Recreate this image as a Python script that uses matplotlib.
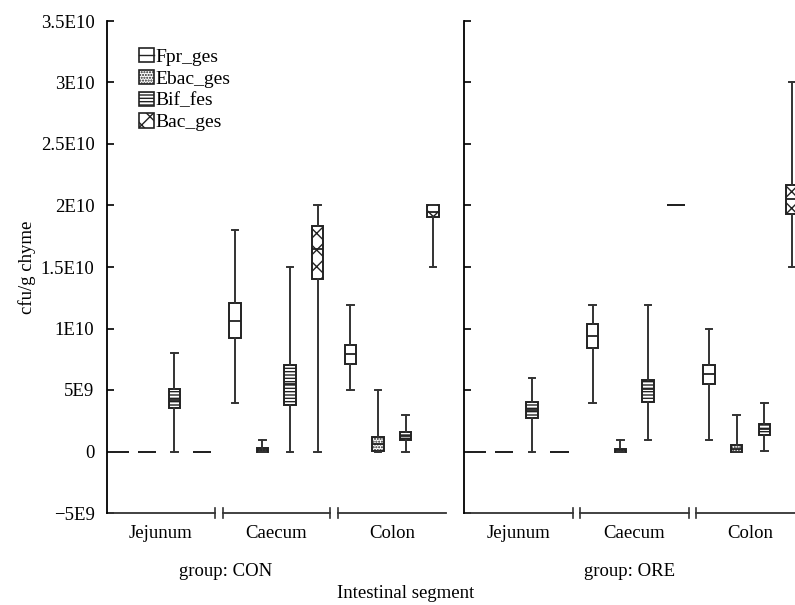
import matplotlib
matplotlib.use("Agg")
import matplotlib.pyplot as plt
from matplotlib.patches import Patch
from matplotlib.lines import Line2D
from matplotlib.legend_handler import HandlerTuple
import matplotlib.transforms as mtransforms

plt.rcParams['font.family'] = ['Liberation Serif', 'DejaVu Serif']
plt.rcParams['hatch.linewidth'] = 1.0

segments = ['Jejunum', 'Caecum', 'Colon']
series = ['Fpr_ges', 'Ebac_ges', 'Bif_fes', 'Bac_ges']
groups = ['group: CON', 'group: ORE']

# stats per segment: [whislo, q1, med, q3, whishi]
fpr_con = [[0, 0, 0, 0, 0], [3.95e9, 9.25e9, 1.065e10, 1.205e10, 1.80e10], [5.0e9, 7.1e9, 7.9e9, 8.65e9, 1.19e10]]
ebac_con = [[0, 0, 0, 0, 0], [0, 0, 0.1e9, 0.25e9, 0.95e9], [0, 0.05e9, 0.6e9, 1.15e9, 5.0e9]]
bif_con = [[0, 3.5e9, 4.2e9, 5.1e9, 8.0e9], [0, 3.8e9, 5.45e9, 7.0e9, 1.5e10], [0, 0.92e9, 1.27e9, 1.6e9, 2.97e9]]
bac_con = [[0, 0, 0, 0, 0], [0, 1.40e10, 1.65e10, 1.83e10, 2.0e10], [1.5e10, 1.91e10, 1.95e10, 2.0e10, 2.0e10]]

fpr_ore = [[0, 0, 0, 0, 0], [3.95e9, 8.4e9, 9.4e9, 1.04e10, 1.19e10], [0.95e9, 5.5e9, 6.3e9, 7.05e9, 1.0e10]]
ebac_ore = [[0, 0, 0, 0, 0], [0, 0, 0.1e9, 0.2e9, 0.95e9], [0, 0, 0.2e9, 0.55e9, 2.97e9]]
bif_ore = [[0, 2.7e9, 3.4e9, 4.05e9, 5.95e9], [0.95e9, 4.0e9, 5.1e9, 5.85e9, 1.19e10], [0.05e9, 1.32e9, 1.8e9, 2.25e9, 3.95e9]]
bac_ore = [[0, 0, 0, 0, 0], [2.0e10, 2.0e10, 2.0e10, 2.0e10, 2.0e10], [1.5e10, 1.93e10, 2.05e10, 2.17e10, 3.0e10]]

yticks = [-5e9, 0, 5e9, 1e10, 1.5e10, 2e10, 2.5e10, 3e10, 3.5e10]
ytick_labels = ['\u22125E9', '0', '5E9', '1E10', '1.5E10', '2E10', '2.5E10', '3E10', '3.5E10']

data = [[fpr_con, ebac_con, bif_con, bac_con], [fpr_ore, ebac_ore, bif_ore, bac_ore]]
hatches = [None, '......', '-----', 'xx']

W, H = 795, 605
fig = plt.figure(figsize=(W / 100, H / 100), dpi=100)
FS = 13.5

seg_step = 1.07
seg_w = 1.0
offsets = [0.115, 0.37, 0.625, 0.88]
xmax = 2 * seg_step + seg_w

y_bot, y_top = 513, 21
axes = []
for gi, (x0, x1) in enumerate([(107, 446), (464, 805)]):
    ax = fig.add_axes([x0 / W, 1 - y_bot / H, (x1 - x0) / W, (y_bot - y_top) / H])
    axes.append(ax)
    ax.set_xlim(0, xmax)
    ax.set_ylim(-5e9, 3.5e10)
    for s in ['top', 'right', 'bottom']:
        ax.spines[s].set_visible(False)
    ax.spines['left'].set_linewidth(1.3)
    ax.set_yticks(yticks)
    if gi == 0:
        ax.set_yticklabels(ytick_labels, fontsize=FS)
    else:
        ax.set_yticklabels([])
    ax.tick_params(axis='y', direction='in', length=5, width=1.2, pad=9)
    ax.set_xticks([i * seg_step + seg_w / 2 for i in range(3)])
    ax.set_xticklabels(segments, fontsize=FS)
    ax.tick_params(axis='x', length=0, pad=9)

    trans = mtransforms.blended_transform_factory(ax.transData, ax.transAxes)
    for i in range(3):
        a, b = i * seg_step, i * seg_step + seg_w
        ax.plot([a, b], [0, 0], color='#333333', lw=1.3, transform=trans, clip_on=False)
        ends = []
        if i > 0:
            ends.append(a)
        if i < 2:
            ends.append(b)
        for e in ends:
            ax.plot([e, e], [-0.01, 0.01], color='#333333', lw=1.2, transform=trans, clip_on=False)

    for k, ser in enumerate(series):
        stats = []
        pos = []
        widths = []
        for i, v in enumerate(data[gi][k]):
            stats.append(dict(whislo=v[0], q1=v[1], med=v[2], q3=v[3], whishi=v[4], fliers=[]))
            pos.append(i * seg_step + offsets[k])
            widths.append(0.17 if v[1] == v[3] else 0.105)
        bp = ax.bxp(stats, positions=pos, widths=widths, capwidths=0.06,
                    patch_artist=True, showfliers=False, manage_ticks=False,
                    boxprops=dict(facecolor='white', edgecolor='#222222', linewidth=1.4,
                                  hatch=hatches[k]),
                    medianprops=dict(color='#222222', linewidth=1.3),
                    whiskerprops=dict(color='#333333', linewidth=1.4),
                    capprops=dict(color='#333333', linewidth=1.4))

fig.text(27 / W, 1 - 267 / H, 'cfu/g chyme', rotation=90, ha='center', va='center', fontsize=FS)
fig.text(226 / W, 1 - 572 / H, groups[0], ha='center', va='center', fontsize=FS)
fig.text(630 / W, 1 - 572 / H, groups[1], ha='center', va='center', fontsize=FS)
fig.text(406 / W, 1 - 593 / H, 'Intestinal segment', ha='center', va='center', fontsize=FS)

handles = []
for k, ser in enumerate(series):
    p = Patch(facecolor='white', edgecolor='#222222', linewidth=1.2, hatch=hatches[k])
    if k == 0:
        handles.append((p, Line2D([], [], color='#222222', lw=1.0)))
    else:
        handles.append(p)
fig.legend(handles, series, loc='upper left', bbox_to_anchor=(139 / W, 1 - 48 / H),
           frameon=False, fontsize=14, handlelength=0.75, handleheight=0.75,
           handletextpad=0.08, labelspacing=0.2, borderpad=0, borderaxespad=0,
           handler_map={tuple: HandlerTuple(ndivide=1)})

fig.savefig('out.png', dpi=100)
